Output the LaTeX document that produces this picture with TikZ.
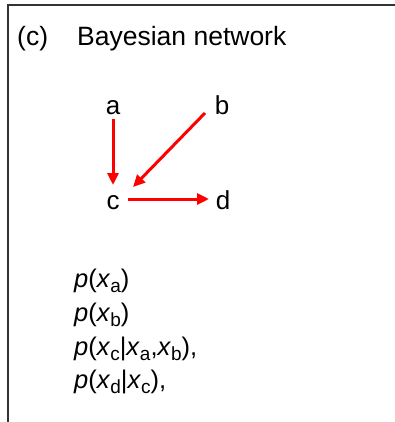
\documentclass[tikz,border=0pt]{standalone}
\usepackage{fontspec}
\usepackage{graphicx}
\setmainfont{Liberation Sans}
\usetikzlibrary{arrows.meta}
\newcommand\sbs[1]{\raisebox{-0.22em}{{\fontsize{19}{19}\selectfont #1}}}
\begin{document}
\begin{tikzpicture}[x=1pt,y=-1pt,
  lbl/.style={inner sep=0pt,anchor=base,font=\fontsize{26}{26}\selectfont},
  ttl/.style={inner sep=0pt,anchor=base west,font=\fontsize{26.5}{26.5}\selectfont},
  frm/.style={inner sep=0pt,anchor=base west,font=\fontsize{25.5}{25.5}\selectfont},
  arr/.style={draw=red,line width=3pt,-{Triangle[length=12pt,width=11pt]}},
  frame/.style={line width=1.5pt,draw=black!80}]
\useasboundingbox (0,0) rectangle (395,422);
\draw[frame] (395,5) -- (8,5) -- (8,422);
\node[ttl] (lab) at (17,46) {(c)};
\node[ttl] (title) at (77,46) {Bayesian network};
\node[lbl] (a) at (113,115) {a};
\node[lbl] (b) at (222,115) {b};
\node[lbl] (c) at (113,209) {c};
\node[lbl] (d) at (223,209) {d};
\draw[arr] ([shift={(0,4)}]a.base) -- ([shift={(0,-24)}]c.base);
\draw[arr] ([shift={(-17,-2)}]b.base) -- ([shift={(20,-22)}]c.base);
\draw[arr] ([shift={(15,-10)}]c.base) -- ([shift={(-14,-10)}]d.base);
\node[frm] (f1) at (74,287) {\textit{p}(\textit{x}\sbs{a})};
\node[frm] (f2) at (74,321) {\textit{p}(\textit{x}\sbs{b})};
\node[frm] (f3) at (74,355) {\textit{p}(\textit{x}\sbs{c}|\textit{x}\sbs{a},\textit{x}\sbs{b}),};
\node[frm] (f4) at (74,388) {\textit{p}(\textit{x}\sbs{d}|\textit{x}\sbs{c}),};
\end{tikzpicture}
\end{document}
